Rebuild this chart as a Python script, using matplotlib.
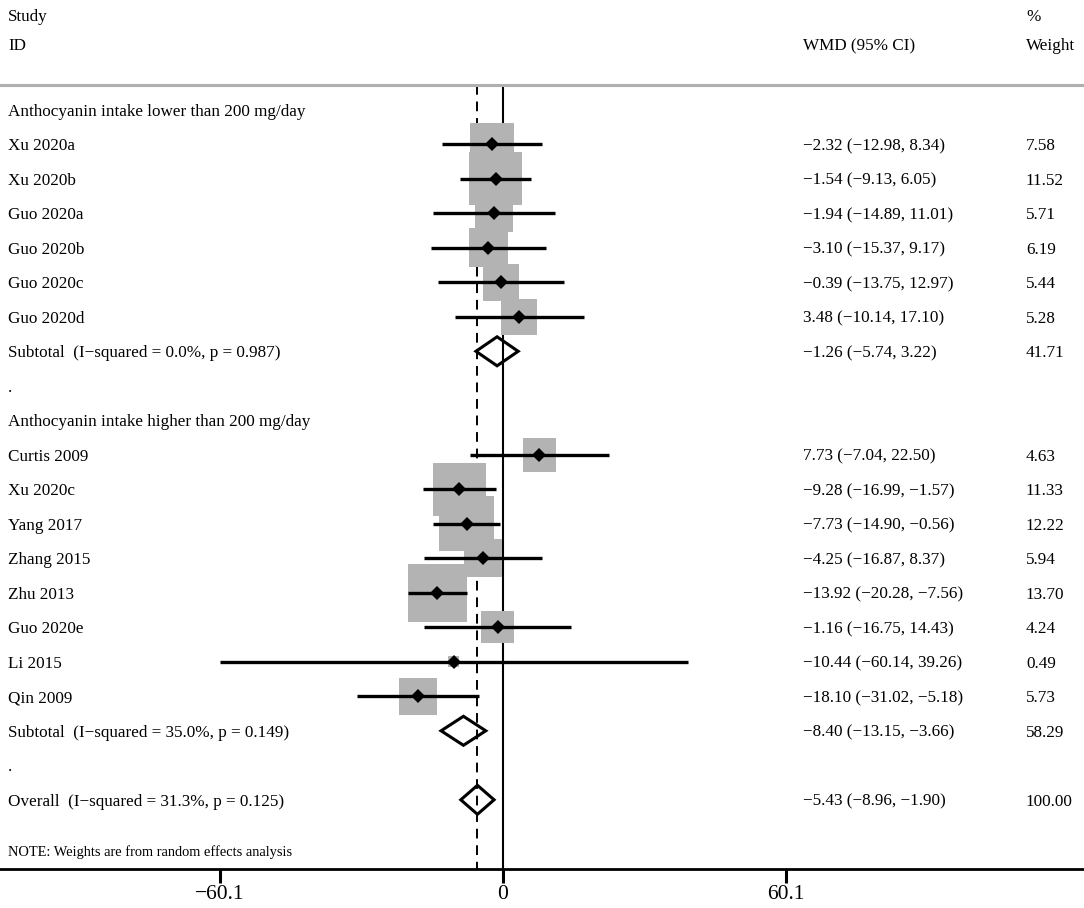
import matplotlib
matplotlib.use("Agg")
import matplotlib.pyplot as plt
from matplotlib.patches import Rectangle, Polygon

# studies with intake lower than 200 mg/day
low_names = ["Xu 2020a", "Xu 2020b", "Guo 2020a", "Guo 2020b", "Guo 2020c", "Guo 2020d"]
low_wmd = [-2.32, -1.54, -1.94, -3.10, -0.39, 3.48]
low_lo = [-12.98, -9.13, -14.89, -15.37, -13.75, -10.14]
low_hi = [8.34, 6.05, 11.01, 9.17, 12.97, 17.10]
low_w = [7.58, 11.52, 5.71, 6.19, 5.44, 5.28]

# studies with intake higher than 200 mg/day
high_names = ["Curtis 2009", "Xu 2020c", "Yang 2017", "Zhang 2015", "Zhu 2013",
              "Guo 2020e", "Li 2015", "Qin 2009"]
high_wmd = [7.73, -9.28, -7.73, -4.25, -13.92, -1.16, -10.44, -18.10]
high_lo = [-7.04, -16.99, -14.90, -16.87, -20.28, -16.75, -60.14, -31.02]
high_hi = [22.50, -1.57, -0.56, 8.37, -7.56, 14.43, 39.26, -5.18]
high_w = [4.63, 11.33, 12.22, 5.94, 13.70, 4.24, 0.49, 5.73]

# pooled results: label, wmd, lower, upper, weight
sub_low = ["Subtotal  (I\u2212squared = 0.0%, p = 0.987)", -1.26, -5.74, 3.22, 41.71]
sub_high = ["Subtotal  (I\u2212squared = 35.0%, p = 0.149)", -8.40, -13.15, -3.66, 58.29]
overall = ["Overall  (I\u2212squared = 31.3%, p = 0.125)", -5.43, -8.96, -1.90, 100.00]

group_titles = ["Anthocyanin intake lower than 200 mg/day",
                "Anthocyanin intake higher than 200 mg/day"]
xticks = [-60.1, 0, 60.1]

plt.rcParams["font.family"] = ["Liberation Serif", "DejaVu Serif"]

fig = plt.figure(figsize=(10.84, 9.08), dpi=100)
ax = fig.add_axes([0, 0, 1, 1])

PX = 4.709      # pixels per unit on x
ROW = 34.5      # pixels per row
ax.set_xlim(-503 / PX, (1084 - 503) / PX)
ax.set_ylim((908 - 109.8) / ROW, -109.8 / ROW)

FS = 12.3
DY = 0.06       # small downward nudge for text
tx = ax.get_yaxis_transform()   # x in axes fraction, y in rows
col_id, col_wmd, col_w = 8 / 1084, 802.7 / 1084, 1026 / 1084


def fmt_ci(e, l, h):
    return f"{e:.2f} ({l:.2f}, {h:.2f})".replace("-", "\u2212")


def put(row, label, wmd_txt="", w_txt="", size=FS):
    kw = dict(transform=tx, va="center", fontsize=size)
    ax.text(col_id, row + DY, label, ha="left", **kw)
    if wmd_txt:
        ax.text(col_wmd, row + DY, wmd_txt, ha="left", **kw)
    if w_txt:
        ax.text(col_w, row + DY, w_txt, ha="left", **kw)


def study(row, name, e, l, h, w):
    side = 15.7 * w ** 0.5
    ax.add_patch(Rectangle((e - side / PX / 2, row - side / ROW / 2), side / PX, side / ROW,
                           facecolor="#b3b3b3", edgecolor="none", zorder=2))
    ax.plot([l, h], [row, row], color="black", lw=2.4, solid_capstyle="butt", zorder=3)
    ax.plot(e, row, marker="D", color="black", ms=6.8, mew=0, zorder=4)
    put(row, name, fmt_ci(e, l, h), f"{w:.2f}")


def pooled(row, item):
    label, e, l, h, w = item
    hh = 14.5 / ROW
    ax.add_patch(Polygon([(l, row), (e, row - hh), (h, row), (e, row + hh)], closed=True,
                         facecolor="none", edgecolor="black", lw=2.2, zorder=4))
    put(row, label, fmt_ci(e, l, h), f"{w:.2f}")


# header
put(-2.75, "Study")
ax.text(col_w, -2.75 + DY, "%", transform=tx, va="center", ha="left", fontsize=FS)
put(-1.9, "ID", "WMD (95% CI)", "Weight")
top, axis_row = -0.72, 22.0
ax.axhline(top, color="#b0b0b0", lw=2.2)

# reference lines
ax.vlines(0, top, axis_row, color="black", lw=1.5, zorder=1)
ax.vlines(overall[1], top, axis_row, color="black", lw=1.4, linestyles=(0, (5, 3.5)), zorder=1)

row = 0
put(row, group_titles[0])
for i in range(len(low_names)):
    row += 1
    study(row, low_names[i], low_wmd[i], low_lo[i], low_hi[i], low_w[i])
row += 1
pooled(row, sub_low)
row += 1
put(row, ".")
row += 1
put(row, group_titles[1])
for i in range(len(high_names)):
    row += 1
    study(row, high_names[i], high_wmd[i], high_lo[i], high_hi[i], high_w[i])
row += 1
pooled(row, sub_high)
row += 1
put(row, ".")
row += 1
pooled(row, overall)
put(row + 1.45, "NOTE: Weights are from random effects analysis", size=10.4)

# x axis
for s in ["top", "left", "right"]:
    ax.spines[s].set_visible(False)
ax.spines["bottom"].set_position(("data", axis_row))
ax.spines["bottom"].set_linewidth(2.0)
ax.set_yticks([])
ax.set_xticks(xticks)
ax.set_xticklabels([f"{t:g}".replace("-", "\u2212") for t in xticks])
ax.tick_params(axis="x", direction="out", length=10, width=2.2, pad=2, labelsize=15.5)

fig.savefig("out.png", dpi=100)
